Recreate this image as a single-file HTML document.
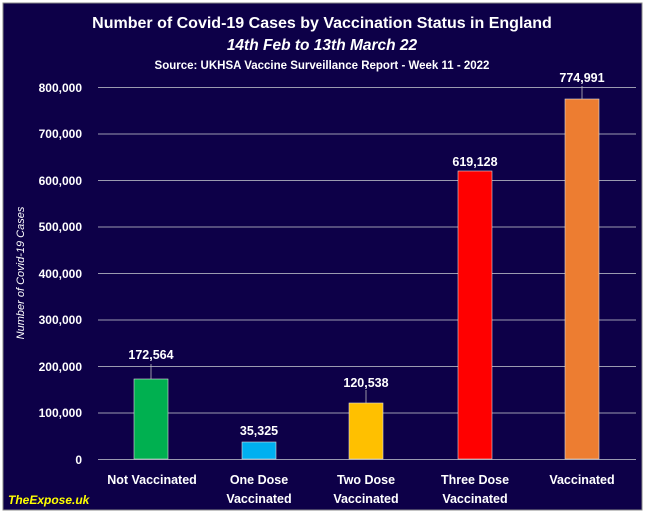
<!DOCTYPE html>
<html><head><style>
body{margin:0;width:645px;height:513px;overflow:hidden;background:#fff;font-family:"Liberation Sans",sans-serif}
</style></head><body>
<svg width="645" height="513" xmlns="http://www.w3.org/2000/svg" style="display:block">
<rect x="0.5" y="0.5" width="644" height="512" fill="#fff"/>
<rect x="3" y="3" width="639" height="507" fill="#0d0048" stroke="#888" stroke-width="1"/>
<g fill="#fff" font-family="Liberation Sans, sans-serif" font-weight="bold" text-anchor="middle">
<text x="322" y="28" font-size="16">Number of Covid-19 Cases by Vaccination Status in England</text>
<text x="322" y="50" font-size="15.5" font-style="italic">14th Feb to 13th March 22</text>
<text x="322" y="69" font-size="11.5">Source: UKHSA Vaccine Surveillance Report - Week 11 - 2022</text>
</g>
<g stroke="#9a9ab0" stroke-width="1">
<line x1="98" x2="636" y1="87.5" y2="87.5"/>
<line x1="98" x2="636" y1="134" y2="134"/>
<line x1="98" x2="636" y1="180.5" y2="180.5"/>
<line x1="98" x2="636" y1="227" y2="227"/>
<line x1="98" x2="636" y1="273.5" y2="273.5"/>
<line x1="98" x2="636" y1="320" y2="320"/>
<line x1="98" x2="636" y1="366.5" y2="366.5"/>
<line x1="98" x2="636" y1="413" y2="413"/>
<line x1="98" x2="636" y1="459.5" y2="459.5"/>
</g>
<g fill="#fff" font-size="12" font-weight="bold" text-anchor="end">
<text x="82" y="92">800,000</text><text x="82" y="138">700,000</text><text x="82" y="185">600,000</text>
<text x="82" y="231">500,000</text><text x="82" y="278">400,000</text><text x="82" y="324">300,000</text>
<text x="82" y="371">200,000</text><text x="82" y="417">100,000</text><text x="82" y="464">0</text>
</g>
<text transform="translate(24,273) rotate(-90)" fill="#fff" font-size="11" font-style="italic" text-anchor="middle">Number of Covid-19 Cases</text>
<rect x="134" y="379" width="34" height="80" fill="#00b050" stroke="#ddd" stroke-width="0.6"/>
<rect x="242" y="442" width="34" height="17" fill="#00b0f0" stroke="#ddd" stroke-width="0.6"/>
<rect x="349" y="403" width="34" height="56" fill="#ffc000" stroke="#ddd" stroke-width="0.6"/>
<rect x="458" y="171" width="34" height="288" fill="#ff0000" stroke="#ddd" stroke-width="0.6"/>
<rect x="565" y="99" width="34" height="360" fill="#ed7d31" stroke="#ddd" stroke-width="0.6"/>
<g stroke="#bbb" stroke-width="0.8">
<line x1="151" x2="151" y1="364" y2="379"/>
<line x1="366" x2="366" y1="390" y2="403"/>
<line x1="582" x2="582" y1="86" y2="99"/>
</g>
<g fill="#fff" font-size="12.5" font-weight="bold" text-anchor="middle">
<text x="151" y="359">172,564</text>
<text x="259" y="435">35,325</text>
<text x="366" y="387">120,538</text>
<text x="475" y="166">619,128</text>
<text x="582" y="82">774,991</text>
</g>
<g fill="#fff" font-size="12.5" font-weight="bold" text-anchor="middle">
<text x="152" y="484">Not Vaccinated</text>
<text x="259" y="484">One Dose</text><text x="259" y="503">Vaccinated</text>
<text x="366" y="484">Two Dose</text><text x="366" y="503">Vaccinated</text>
<text x="475" y="484">Three Dose</text><text x="475" y="503">Vaccinated</text>
<text x="582" y="484">Vaccinated</text>
</g>
<text x="8" y="504" fill="#ffff00" font-size="12" font-weight="bold" font-style="italic">TheExpose.uk</text>
</svg>
</body></html>
